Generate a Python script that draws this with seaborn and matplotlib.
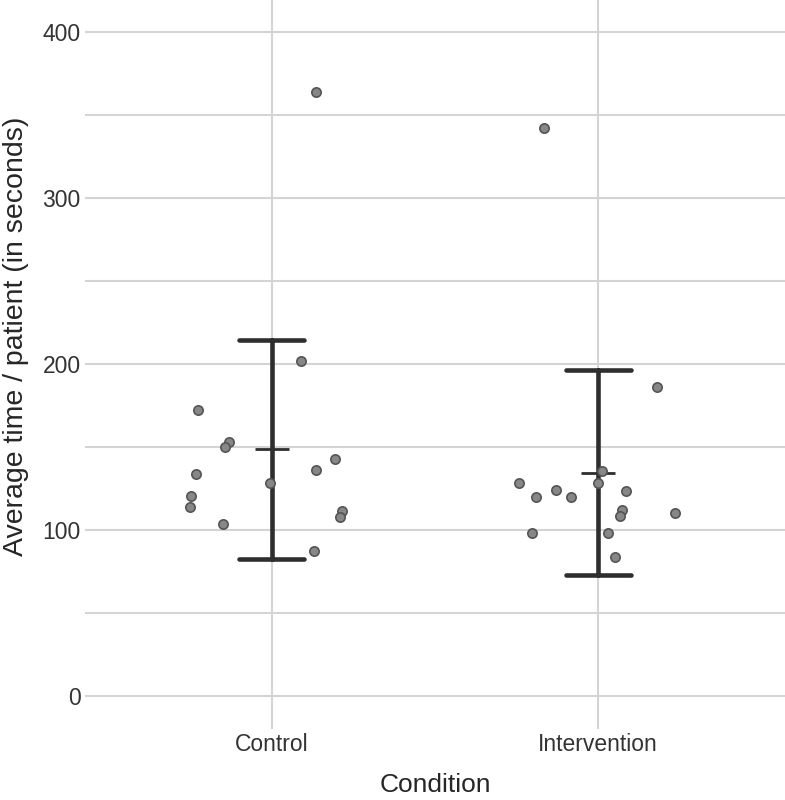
import numpy as np
import pandas as pd
import seaborn as sns
import matplotlib
from matplotlib import pyplot as plt

matplotlib.use("Agg")

sns.set_style("whitegrid")
plt.rcParams["font.family"] = ["Liberation Sans", "DejaVu Sans"]

conditions = ["Control", "Intervention"]

# average seconds per patient
control_times = [202.0, 172.3, 153.2, 149.8, 133.5, 120.5, 113.9, 103.6,
                 128.1, 143.0, 136.0, 111.4, 108.0, 87.5, 364.0]
intervention_times = [186.0, 128.1, 119.5, 124.1, 119.9, 98.0, 135.5, 128.1,
                      123.5, 111.8, 108.6, 110.0, 98.0, 83.9, 342.2]

# horizontal jitter of each dot (category units), as drawn in the picture
control_jitter = [0.091, -0.225, -0.131, -0.144, -0.230, -0.246, -0.251, -0.149,
                  -0.004, 0.193, 0.137, 0.215, 0.209, 0.129, 0.135]
intervention_jitter = [0.181, -0.242, -0.191, -0.129, -0.083, -0.204, 0.013, -0.001,
                       0.085, 0.072, 0.068, 0.235, 0.031, 0.052, -0.165]

df = pd.DataFrame({
    "Condition": [conditions[0]] * len(control_times) + [conditions[1]] * len(intervention_times),
    "time": control_times + intervention_times,
    "jitter": control_jitter + intervention_jitter,
})
df["pos"] = df["Condition"].map({c: i for i, c in enumerate(conditions)}) + df["jitter"]

fig = plt.figure(figsize=(7.85, 8), dpi=100)
ax = fig.add_axes([0.108, 0.089, 0.892, 0.912])

sns.pointplot(
    data=df, x="Condition", y="time", order=conditions, ax=ax,
    errorbar="sd", capsize=0.2, linestyle="none", marker="_",
    markersize=24, markeredgewidth=2, color="#2e2e2e",
    err_kws={"linewidth": 3.3},
)
sns.scatterplot(
    data=df, x="pos", y="time", ax=ax, s=45, color="#878787",
    edgecolor="#555555", linewidth=1.2, zorder=3, legend=False,
)

ax.set_xlim(-0.572, 1.572)
ax.set_ylim(-20, 420)
ax.set_yticks(np.arange(0, 401, 50))
ax.set_yticklabels(["0", "", "100", "", "200", "", "300", "", "400"])
ax.set_xticks([0, 1])
ax.set_xticklabels(conditions)
ax.grid(True, color="#d4d4d4", linewidth=1.5)
for s in ax.spines.values():
    s.set_visible(False)
ax.tick_params(length=0, labelsize=16.5, colors="#333333", pad=3)
ax.set_xlabel("Condition", fontsize=19, color="#262626", labelpad=12)
ax.set_ylabel("Average time / patient (in seconds)", fontsize=20.5, color="#262626")
ax.yaxis.set_label_coords(-0.079, 0.538)

fig.savefig("out.png", dpi=100)
